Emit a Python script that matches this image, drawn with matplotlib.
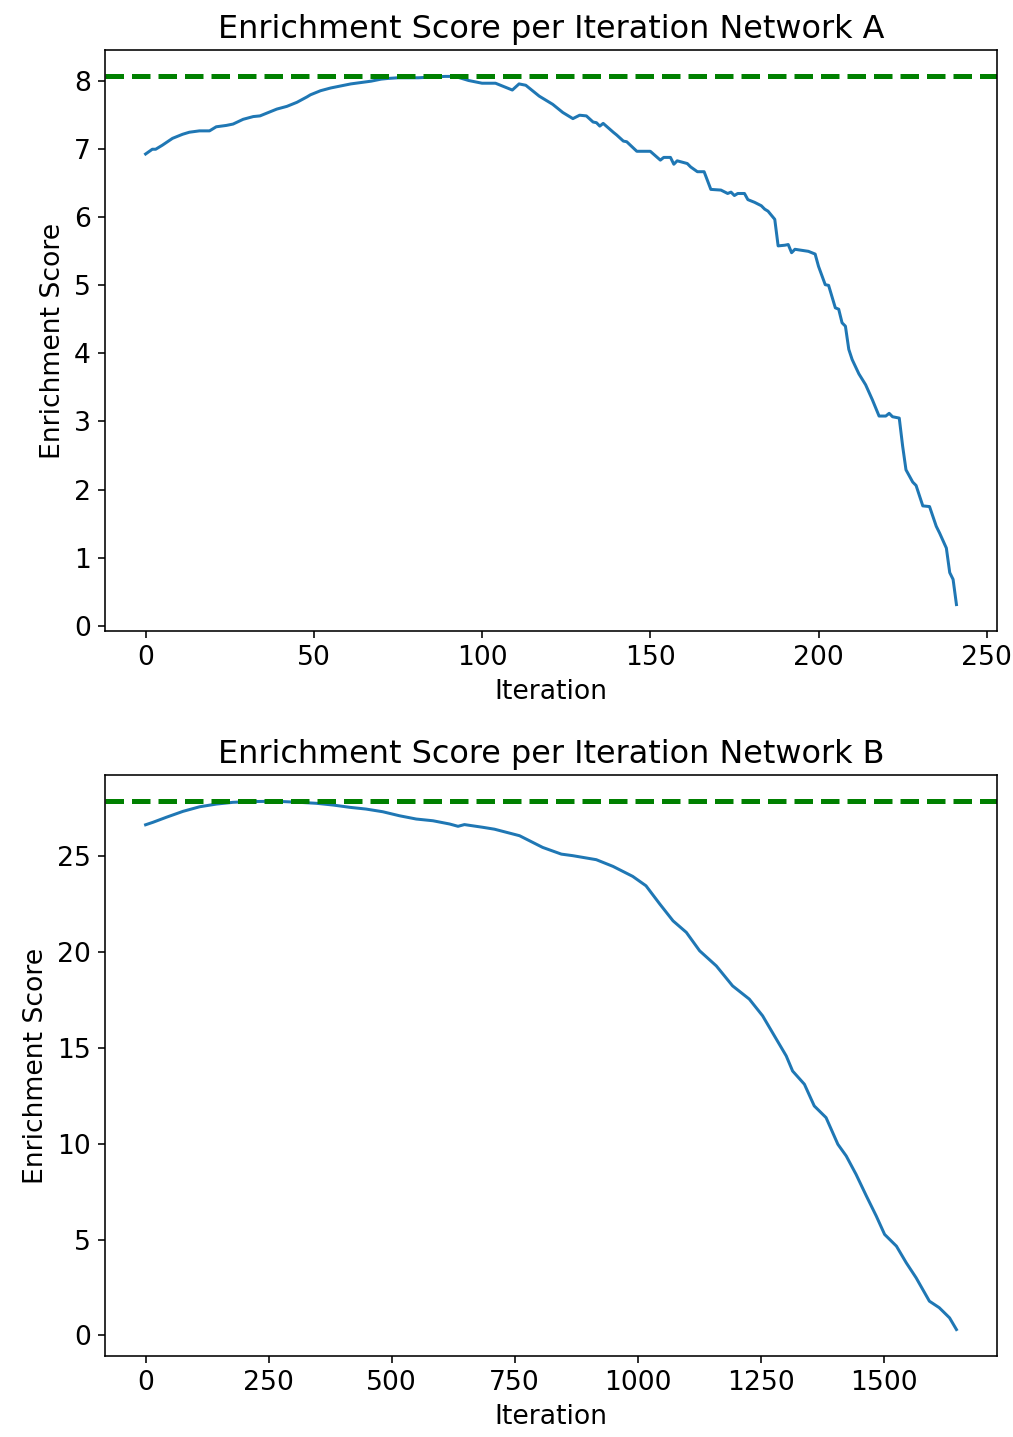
import matplotlib
matplotlib.use('Agg')
import matplotlib.pyplot as plt

# Network A: iteration -> enrichment score
iter_a = [0, 2, 3, 5, 8, 11, 13, 16, 19, 21, 24, 26, 29, 32, 34, 36, 39, 42, 45, 48,
          49, 52, 55, 58, 61, 64, 67, 70, 72, 75, 81, 85, 89, 92, 96, 100, 104, 106, 109, 111,
          113, 117, 121, 124, 127, 129, 131, 133, 134, 135, 136, 139, 140, 142, 143, 146, 150, 153, 154, 156,
          157, 158, 161, 162, 164, 166, 168, 171, 173, 174, 175, 176, 178, 179, 181, 183, 184, 185, 187, 188,
          190, 191, 192, 193, 197, 199, 200, 202, 203, 205, 206, 207, 208, 209, 210, 212, 213, 214, 216, 218,
          220, 221, 222, 224, 225, 226, 228, 229, 231, 233, 235, 236, 238, 239, 240, 241]
score_a = [6.93, 7.00, 7.00, 7.06, 7.16, 7.22, 7.25, 7.27, 7.27, 7.33, 7.35, 7.37, 7.44, 7.48, 7.49, 7.53, 7.59, 7.63, 7.69, 7.77,
           7.80, 7.86, 7.90, 7.93, 7.96, 7.98, 8.00, 8.03, 8.04, 8.05, 8.05, 8.06, 8.07, 8.07, 8.01, 7.97, 7.97, 7.93, 7.87, 7.96,
           7.94, 7.78, 7.66, 7.54, 7.45, 7.50, 7.49, 7.40, 7.39, 7.34, 7.38, 7.25, 7.21, 7.12, 7.11, 6.97, 6.97, 6.84, 6.88, 6.88,
           6.78, 6.83, 6.79, 6.74, 6.67, 6.67, 6.41, 6.40, 6.35, 6.37, 6.32, 6.35, 6.35, 6.26, 6.22, 6.17, 6.12, 6.09, 5.97, 5.58,
           5.59, 5.60, 5.48, 5.53, 5.50, 5.46, 5.28, 5.01, 5.00, 4.67, 4.65, 4.45, 4.40, 4.06, 3.91, 3.70, 3.62, 3.54, 3.32, 3.08,
           3.08, 3.12, 3.07, 3.05, 2.64, 2.29, 2.11, 2.06, 1.76, 1.75, 1.46, 1.36, 1.14, 0.78, 0.68, 0.31]

# Network B
iter_b = [0, 15, 42, 76, 110, 144, 177, 211, 245, 279, 313, 347, 381, 415, 448, 482, 516, 550, 584, 618,
          635, 648, 685, 709, 760, 807, 845, 868, 916, 950, 990, 1017, 1045, 1072, 1099, 1126, 1160, 1193, 1227, 1254,
          1282, 1302, 1315, 1339, 1359, 1383, 1407, 1424, 1444, 1465, 1485, 1502, 1526, 1546, 1566, 1593, 1613, 1634, 1648]
score_b = [26.63, 26.76, 27.02, 27.33, 27.57, 27.71, 27.80, 27.84, 27.85, 27.84, 27.80, 27.75, 27.66, 27.54, 27.45, 27.31, 27.10, 26.93, 26.84, 26.67,
           26.55, 26.64, 26.50, 26.40, 26.06, 25.45, 25.10, 25.02, 24.81, 24.46, 23.94, 23.45, 22.50, 21.62, 21.02, 20.06, 19.27, 18.23, 17.54, 16.67,
           15.45, 14.58, 13.79, 13.10, 11.97, 11.36, 9.97, 9.36, 8.40, 7.27, 6.23, 5.27, 4.66, 3.79, 3.01, 1.79, 1.45, 0.92, 0.31]

plt.rcParams['font.size'] = 13.3

fig = plt.figure(figsize=(1013 / 144, 1437 / 144), dpi=144)
ax_a = fig.add_axes([0.1037, 0.5609, 0.8805, 0.4043])
ax_b = fig.add_axes([0.1037, 0.0564, 0.8805, 0.4043])

for ax, x, y, name in [(ax_a, iter_a, score_a, 'A'), (ax_b, iter_b, score_b, 'B')]:
    ax.plot(x, y)
    ax.axhline(max(y), color='g', linestyle='--', linewidth=2.5)
    ax.set_title(f'Enrichment Score per Iteration Network {name}')
    ax.set_xlabel('Iteration')
    ax.set_ylabel('Enrichment Score')

fig.savefig('out.png', dpi=144)
